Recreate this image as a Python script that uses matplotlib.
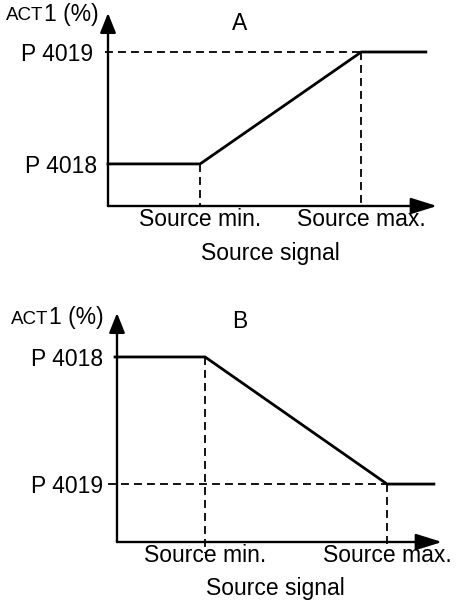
import matplotlib
matplotlib.use("Agg")
import matplotlib.pyplot as plt

plt.rcParams['font.family'] = ['Liberation Sans', 'DejaVu Sans']

# ---- data (schematic, in % of axis range) ----
# Panel A: rising characteristic
a_src_min, a_src_max = 28.0, 77.0
a_p4018, a_p4019 = 21.8, 79.8
a_curve_x = [0.0, a_src_min, a_src_max, 96.6]
a_curve_y = [a_p4018, a_p4018, a_p4019, a_p4019]

# Panel B: falling characteristic
b_src_min, b_src_max = 27.1, 83.1
b_p4018, b_p4019 = 80.8, 25.3
b_curve_x = [-0.6, b_src_min, b_src_max, 97.5]
b_curve_y = [b_p4018, b_p4018, b_p4019, b_p4019]

x_tick_labels = ["Source min.", "Source max."]
x_label = "Source signal"
y_label_small = "ACT"
y_label_big = "1 (%)"

W, H = 461, 603
FS = 16.5
fig = plt.figure(figsize=(W / 100, H / 100), dpi=100)


def px_axes(left, top, right, bottom):
    return fig.add_axes([left / W, 1 - bottom / H, (right - left) / W, (bottom - top) / H])


def draw_panel(ax, cx, cy, smin, smax, p18, p19, title, title_xy, pads_y, xlab_xy,
               hdash_x0, vdash_y0):
    ax.set_xlim(0, 100)
    ax.set_ylim(0, 100)
    for s in ax.spines.values():
        s.set_visible(False)
    # axes with arrows
    ax.annotate("", xy=(0, 1), xytext=(0, 0), xycoords="axes fraction",
                arrowprops=dict(arrowstyle="-|>,head_length=1.2,head_width=0.48",
                                lw=1.7, color="black", shrinkA=0, shrinkB=0,
                                mutation_scale=10), annotation_clip=False)
    ax.annotate("", xy=(1, 0), xytext=(0, 0), xycoords="axes fraction",
                arrowprops=dict(arrowstyle="-|>,head_length=1.6,head_width=0.5",
                                lw=1.7, color="black", shrinkA=0, shrinkB=0,
                                mutation_scale=10), annotation_clip=False)
    # dashed guides
    dash = dict(color="black", lw=1.3, ls=(0, (4.4, 2.8)), clip_on=False)
    ax.plot([hdash_x0, smax], [p19, p19], **dash)
    ax.plot([smin, smin], [p18, vdash_y0[0]], **dash)
    ax.plot([smax, smax], [p19, vdash_y0[1]], **dash)
    # characteristic curve
    ax.plot(cx, cy, color="black", lw=2.0, clip_on=False, solid_joinstyle="miter")
    # ticks
    ax.set_xticks([smin, smax], labels=x_tick_labels, fontsize=FS)
    ax.set_yticks([p18, p19], labels=["P 4018", "P 4019"], fontsize=FS)
    ax.tick_params(length=0)
    ax.tick_params(axis="x", pad=1.5)
    yt = ax.yaxis.get_major_ticks()
    yt[0].set_pad(pads_y[0])
    yt[1].set_pad(pads_y[1])
    ax.set_xlabel(x_label, fontsize=FS, va="baseline")
    ax.xaxis.set_label_coords(xlab_xy[0], xlab_xy[1])
    ax.text(title_xy[0], title_xy[1], title, transform=ax.transAxes,
            ha="center", va="baseline", fontsize=FS)


axA = px_axes(108, 13, 437, 206)
draw_panel(axA, a_curve_x, a_curve_y, a_src_min, a_src_max, a_p4018, a_p4019,
           "A", (0.401, 0.912), (8.0, 10.8), (0.495, -0.28), -0.8, (0, 0))
fig.text(6 / W, 1 - 20.5 / H, y_label_small, fontsize=13.5, ha="left", va="baseline")
fig.text(44 / W, 1 - 20.5 / H, y_label_big, fontsize=16.5, ha="left", va="baseline")

axB = px_axes(117, 313, 442, 542)
draw_panel(axB, b_curve_x, b_curve_y, b_src_min, b_src_max, b_p4018, b_p4019,
           "B", (0.378, 0.934), (10.0, 10.0), (0.486, -0.231), -2.8, (-4.8, -2.2))
fig.text(11 / W, 1 - 324 / H, y_label_small, fontsize=13.5, ha="left", va="baseline")
fig.text(49 / W, 1 - 324 / H, y_label_big, fontsize=16.5, ha="left", va="baseline")

fig.savefig("out.png", dpi=100)
